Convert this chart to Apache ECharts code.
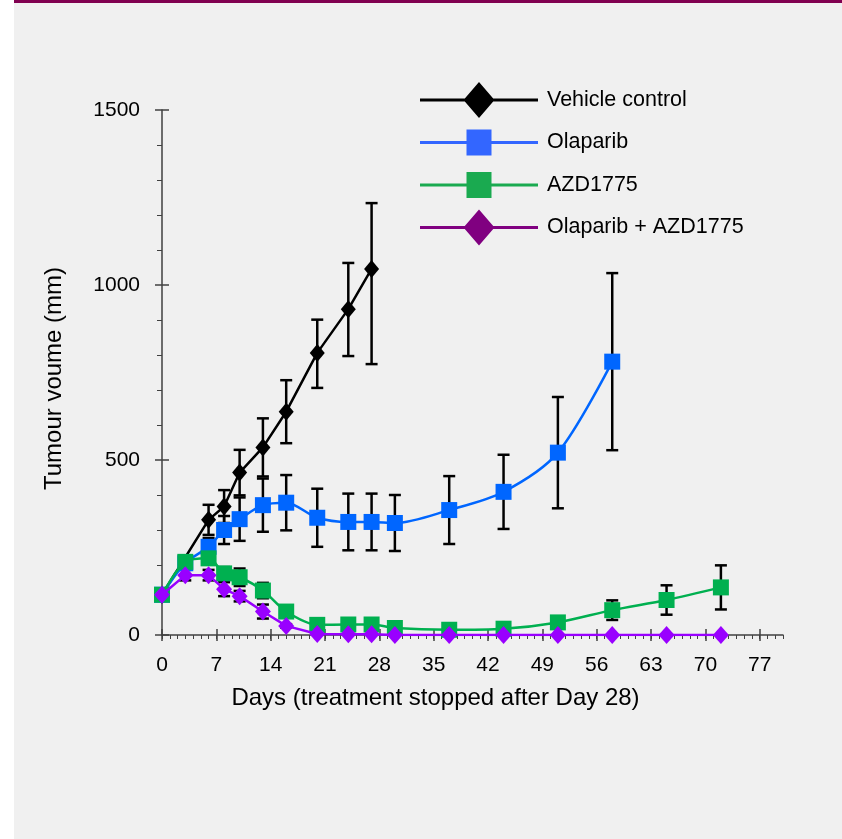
<!DOCTYPE html>
<html><head><meta charset="utf-8">
<script src="https://cdn.jsdelivr.net/npm/echarts@6/dist/echarts.min.js"></script>
<style>html,body{margin:0;padding:0;background:#fff}#c{width:842px;height:839px}</style>
</head><body><div id="c"></div><script>
// ---- data ----
const seriesNames = ['Vehicle control', 'Olaparib', 'AZD1775', 'Olaparib + AZD1775'];
const xTickValues = [0, 7, 14, 21, 28, 35, 42, 49, 56, 63, 70, 77];
const yTickValues = [0, 500, 1000, 1500];

const vehicleDays = [0, 6, 8, 10, 13, 16, 20, 24, 27];
const vehicleVals = [115, 329, 367, 464, 536, 638, 806, 931, 1046];
const vehicleErrUp  = [0, 43, 47, 65, 83, 90, 95, 132, 188];
const vehicleErrLow = [0, 43, 47, 65, 83, 90, 100, 134, 272];

const olaDays = [0, 3, 6, 8, 10, 13, 16, 20, 24, 27, 30, 37, 44, 51, 58];
const olaVals = [115, 205, 252, 300, 331, 371, 378, 335, 323, 323, 320, 357, 409, 521, 781];
const olaErr  = [0, 0, 25, 40, 62, 76, 79, 83, 81, 81, 80, 97, 106, 159, 253];

const azdDays = [0, 3, 6, 8, 10, 13, 16, 20, 24, 27, 30, 37, 44, 51, 58, 65, 72];
const azdVals = [115, 209, 219, 176, 165, 127, 67, 29, 30, 30, 20, 15, 18, 36, 71, 100, 136];
const azdErr  = [0, 0, 0, 18, 25, 22, 8, 0, 0, 0, 0, 0, 0, 8, 28, 42, 63];

const comboDays = [0, 3, 6, 8, 10, 13, 16, 20, 24, 27, 30, 37, 44, 51, 58, 65, 72];
const comboVals = [115, 171, 171, 131, 111, 67, 26, 3, 2, 2, 0, 0, 0, 0, 0, 0, 0];
const comboErr  = [0, 15, 15, 20, 15, 20, 5, 0, 0, 0, 0, 0, 0, 0, 0, 0, 0];

// ---- build ----
const FONT = 'Liberation Sans, Arial, sans-serif';
function pts(d, v) { return d.map((x, i) => [x, v[i]]); }
function errPts(d, v, up, low) {
  low = low || up;
  const out = [];
  d.forEach((x, i) => { if (up[i] > 0 || low[i] > 0) out.push([x, v[i] - low[i], v[i] + up[i]]); });
  return out;
}
function errRender(params, api) {
  const x = api.value(0), lo = api.value(1), hi = api.value(2);
  const a = api.coord([x, lo]), b = api.coord([x, hi]);
  const w = 6;
  const st = { stroke: '#000', lineWidth: 2.5 };
  return { type: 'group', children: [
    { type: 'line', shape: { x1: a[0], y1: a[1], x2: b[0], y2: b[1] }, style: st },
    { type: 'line', shape: { x1: a[0] - w, y1: a[1], x2: a[0] + w, y2: a[1] }, style: st },
    { type: 'line', shape: { x1: b[0] - w, y1: b[1], x2: b[0] + w, y2: b[1] }, style: st }
  ]};
}
function errSeries(name, data) {
  return { name: name, type: 'custom', renderItem: errRender, data: data, z: 3,
    encode: { x: 0, y: [1, 2] }, silent: true };
}
const days = []; for (let i = 0; i <= 80; i++) days.push(i);

const diamondIcon = 'path://M0 16.5L118 16.5L118 19.5L0 19.5ZM59 0L74.5 18L59 36L43.5 18Z';
const squareIcon = 'path://M0 16.5L118 16.5L118 19.5L0 19.5ZM46.5 5L71.5 5L71.5 31L46.5 31ZM59 0L59 0M59 36L59 36';

const axisLineStyle = { color: '#404040', width: 1.5 };
const chart = echarts.init(document.getElementById('c'), null, { renderer: 'canvas' });
chart.setOption({
  backgroundColor: '#ffffff',
  animation: false,
  graphic: [
    { type: 'rect', left: 14, top: 0, shape: { width: 828, height: 839 }, style: { fill: '#F0F0F0' }, z: -10 },
    { type: 'rect', left: 14, top: 0, shape: { width: 828, height: 3 }, style: { fill: '#800050' }, z: -9 }
  ],
  grid: { left: 162, right: 59, top: 110, bottom: 204, containLabel: false },
  legend: {
    orient: 'vertical', left: 415, top: 77, itemWidth: 118, itemHeight: 36, itemGap: 6.5,
    textStyle: { fontFamily: FONT, fontSize: 21.5, color: '#000', padding: [0, 0, 0, 4] },
    itemStyle: { borderWidth: 0 },
    data: [
      { name: seriesNames[0], icon: diamondIcon, itemStyle: { color: '#000000' } },
      { name: seriesNames[1], icon: squareIcon, itemStyle: { color: '#3366FF' } },
      { name: seriesNames[2], icon: squareIcon, itemStyle: { color: '#1AAA50' } },
      { name: seriesNames[3], icon: diamondIcon, itemStyle: { color: '#800080' } }
    ]
  },
  xAxis: [
    { type: 'value', min: 0, max: 80, splitLine: { show: false },
      axisLine: { lineStyle: axisLineStyle },
      axisTick: { inside: true, length: 6, customValues: xTickValues, lineStyle: axisLineStyle },
      axisLabel: { customValues: xTickValues, margin: 20, fontFamily: FONT, fontSize: 21, color: '#000' },
      name: 'Days (treatment stopped after Day 28)', nameLocation: 'middle', nameGap: 51,
      nameTextStyle: { fontFamily: FONT, fontSize: 24, color: '#000', padding: [0, 74, 0, 0] } },
    { type: 'value', min: 0, max: 80, position: 'bottom', splitLine: { show: false },
      axisLine: { show: false },
      axisTick: { inside: false, length: 6, customValues: xTickValues, lineStyle: axisLineStyle },
      axisLabel: { show: false } },
    { type: 'value', min: 0, max: 80, position: 'bottom', splitLine: { show: false },
      axisLine: { show: false },
      axisTick: { inside: false, length: 4, customValues: days, lineStyle: { color: '#404040', width: 1 } },
      axisLabel: { show: false } }
  ],
  yAxis: [
    { type: 'value', min: 0, max: 1500, interval: 500, splitLine: { show: false },
      axisLine: { show: true, lineStyle: axisLineStyle },
      axisTick: { show: true, length: 7, lineStyle: axisLineStyle },
      minorTick: { show: true, splitNumber: 5, length: 5, lineStyle: { color: '#404040', width: 1 } },
      axisLabel: { margin: 22, fontFamily: FONT, fontSize: 21, color: '#000', formatter: v => String(v) },
      name: 'Tumour voume (mm)', nameLocation: 'middle', nameGap: 96,
      nameTextStyle: { fontFamily: FONT, fontSize: 24, color: '#000', padding: [0, 12, 0, 0] } },
    { type: 'value', min: 0, max: 1500, interval: 500, position: 'left', splitLine: { show: false },
      axisLine: { show: false },
      axisTick: { show: true, inside: true, length: 7, lineStyle: axisLineStyle },
      axisLabel: { show: false } }
  ],
  series: [
    errSeries('e0', errPts(vehicleDays, vehicleVals, vehicleErrUp, vehicleErrLow)),
    errSeries('e1', errPts(olaDays, olaVals, olaErr)),
    errSeries('e2', errPts(azdDays, azdVals, azdErr)),
    errSeries('e3', errPts(comboDays, comboVals, comboErr)),
    { name: seriesNames[0], type: 'line', data: pts(vehicleDays, vehicleVals), z: 4,
      symbol: 'diamond', symbolSize: [15, 18], itemStyle: { color: '#000000' },
      lineStyle: { color: '#000000', width: 2.5 } },
    { name: seriesNames[1], type: 'line', data: pts(olaDays, olaVals), smooth: 0.3, z: 5,
      symbol: 'rect', symbolSize: 16, itemStyle: { color: '#0066FF' },
      lineStyle: { color: '#0066FF', width: 2.5 } },
    { name: seriesNames[2], type: 'line', data: pts(azdDays, azdVals), smooth: 0.3, z: 6,
      symbol: 'rect', symbolSize: 16, itemStyle: { color: '#00B050' },
      lineStyle: { color: '#00B050', width: 2.5 } },
    { name: seriesNames[3], type: 'line', data: pts(comboDays, comboVals), z: 7,
      symbol: 'diamond', symbolSize: [16, 18], itemStyle: { color: '#9900FF' },
      lineStyle: { color: '#9900FF', width: 2.5 } }
  ]
});
</script></body></html>
